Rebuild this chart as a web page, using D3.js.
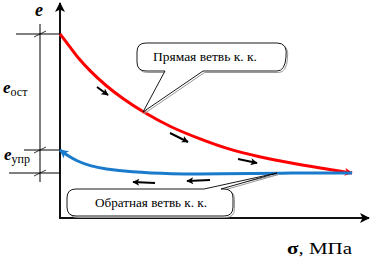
<!DOCTYPE html>
<html>
<head>
<meta charset="utf-8">
<script src="https://cdn.jsdelivr.net/npm/d3@7"></script>
<style>
  html, body { margin: 0; padding: 0; background: #fff; }
  svg { display: block; }
</style>
</head>
<body>
<svg id="chart" width="371" height="261"></svg>
<script>
// Loading branch of the compression curve: stress σ (МПа) vs void ratio e
const loadSigma = [0, 10, 18, 30, 45, 63, 83, 110, 140, 167, 200, 230, 260, 292];
const loadE     = [184, 171, 160, 147, 133, 119, 106, 91, 79, 69, 61, 55, 50, 45];

// Unloading branch
const unloadSigma = [0, 8, 17, 30, 45, 70, 110, 160, 220, 292];
const unloadE     = [68, 62, 57, 52, 49, 46, 44, 44, 45, 45];

// Texts
const axisYLabel = "e";
const axisXLabel = ["σ", ", МПа"];
const calloutLoad = "Прямая ветвь к. к.";
const calloutUnload = "Обратная ветвь к. к.";
const residualLabel = ["e", "ост"];
const elasticLabel = ["e", "упр"];

const FONT = "Liberation Serif";

const svg = d3.select("#chart");

const x = d3.scaleLinear().domain([0, 300]).range([60, 360]);
const y = d3.scaleLinear().domain([0, 200]).range([218, 18]);

const load = loadSigma.map((s, i) => ({ s, e: loadE[i] }));
const unload = unloadSigma.map((s, i) => ({ s, e: unloadE[i] }));

const defs = svg.append("defs");
function marker(id, color, w, h) {
  defs.append("marker")
    .attr("id", id)
    .attr("viewBox", "0 0 10 10")
    .attr("refX", 9).attr("refY", 5)
    .attr("markerWidth", w).attr("markerHeight", h)
    .attr("markerUnits", "userSpaceOnUse")
    .attr("orient", "auto")
    .append("path")
    .attr("d", "M0,0 L10,5 L0,10 L2.5,5 Z")
    .attr("fill", color);
}
marker("arrAxis", "#000", 10, 10);
marker("arrRed", "#ff0000", 9, 8);
marker("arrBlue", "#1a7acb", 10, 9);
marker("arrSmall", "#000", 8, 7);

// Axes with arrowheads
svg.append("line")
  .attr("x1", x(0)).attr("y1", y(0) + 1)
  .attr("x2", x(0)).attr("y2", 3)
  .attr("stroke", "#111").attr("stroke-width", 2)
  .attr("marker-end", "url(#arrAxis)");
svg.append("line")
  .attr("x1", x(0) - 1).attr("y1", y(0))
  .attr("x2", 369).attr("y2", y(0))
  .attr("stroke", "#111").attr("stroke-width", 2)
  .attr("marker-end", "url(#arrAxis)");

// Dimension lines on the left
const eTop = loadE[0], eEl = unloadE[0], eEnd = unloadE[unloadE.length - 1];
const dimX = 40;
const dim = svg.append("g").attr("stroke", "#000").attr("stroke-width", 1);
dim.append("line").attr("x1", dimX).attr("x2", dimX).attr("y1", y(eTop) - 10).attr("y2", y(eEnd) + 9);
dim.append("line").attr("x1", 16).attr("x2", x(0)).attr("y1", y(eTop)).attr("y2", y(eTop));
dim.append("line").attr("x1", 24).attr("x2", x(0)).attr("y1", y(eEl)).attr("y2", y(eEl));
dim.append("line").attr("x1", 9).attr("x2", x(0)).attr("y1", y(eEnd)).attr("y2", y(eEnd));
[eTop, eEl, eEnd].forEach(v => {
  dim.append("line")
    .attr("x1", dimX - 6).attr("y1", y(v) + 3)
    .attr("x2", dimX + 6).attr("y2", y(v) - 3)
    .attr("stroke-width", 0.8);
});

// Curves
const lineGen = d3.line().x(d => x(d.s)).y(d => y(d.e)).curve(d3.curveBasis);

svg.append("path")
  .attr("d", lineGen(load))
  .attr("fill", "none").attr("stroke", "#ff0000").attr("stroke-width", 3)
  .attr("marker-end", "url(#arrRed)");

svg.append("path")
  .attr("d", lineGen(unload.slice().reverse()))
  .attr("fill", "none").attr("stroke", "#1a7acb").attr("stroke-width", 3)
  .attr("marker-end", "url(#arrBlue)");

// Direction arrows along the branches
function dirArrow(s1, e1, s2, e2) {
  svg.append("line")
    .attr("x1", x(s1)).attr("y1", y(e1))
    .attr("x2", x(s2)).attr("y2", y(e2))
    .attr("stroke", "#000").attr("stroke-width", 2)
    .attr("marker-end", "url(#arrSmall)");
}
dirArrow(37, 131, 48, 123);
dirArrow(110, 85, 128, 76);
dirArrow(178, 59, 197, 55);
dirArrow(95, 35, 73, 36);
dirArrow(150, 38, 127, 37);

// Callout bubbles
function callout(bx, by, bw, bh, base1, base2, tip, text, textX, textW) {
  const r = 9;
  const top = by, bot = by + bh, left = bx, right = bx + bw;
  let p;
  if (tip[1] > bot) {
    p = `M${left + r},${top} L${right - r},${top} Q${right + 2},${top} ${right},${top + bh / 2} ` +
        `Q${right - 1},${bot} ${right - r},${bot} L${base2},${bot} L${tip[0]},${tip[1]} L${base1},${bot} ` +
        `L${left + r},${bot} Q${left},${bot} ${left},${bot - r} L${left},${top + r} Q${left},${top} ${left + r},${top} Z`;
  } else {
    p = `M${left + r},${top} L${base1},${top} L${tip[0]},${tip[1]} L${base2},${top} L${right - r},${top} ` +
        `Q${right},${top} ${right},${top + r} L${right},${bot - r} Q${right},${bot} ${right - r},${bot} ` +
        `L${left + r},${bot} Q${left},${bot} ${left},${bot - r} L${left},${top + r} Q${left},${top} ${left + r},${top} Z`;
  }
  svg.append("path").attr("d", p)
    .attr("transform", "translate(1.5,1.5)")
    .attr("fill", "none").attr("stroke", "#999").attr("stroke-width", 1);
  svg.append("path").attr("d", p)
    .attr("fill", "#fff").attr("stroke", "#000").attr("stroke-width", 0.9);
  svg.append("text")
    .attr("x", textX).attr("y", by + bh / 2 + 4)
    .attr("font-family", FONT)
    .attr("font-size", 12)
    .attr("textLength", textW).attr("lengthAdjust", "spacingAndGlyphs")
    .text(text);
}
callout(137, 43, 149, 28, 165, 203, [x(83), y(106)], calloutLoad, 153, 104);
callout(67, 189, 166, 27, 204, 221, [x(217), y(45)], calloutUnload, 95, 112);

// Axis labels
svg.append("text").attr("x", 35).attr("y", 16)
  .attr("font-family", FONT)
  .attr("font-size", 18).attr("font-weight", "bold").attr("font-style", "italic")
  .text(axisYLabel);

const xl = svg.append("text").attr("x", 287).attr("y", 254)
  .attr("font-family", FONT).attr("font-size", 16)
  .attr("textLength", 65).attr("lengthAdjust", "spacingAndGlyphs");
xl.append("tspan").attr("font-weight", "bold").text(axisXLabel[0]);
xl.append("tspan").text(axisXLabel[1]);

function subLabel(lx, ly, parts) {
  const t = svg.append("text").attr("x", lx).attr("y", ly).attr("font-family", FONT);
  t.append("tspan").attr("font-size", 17).attr("font-weight", "bold").attr("font-style", "italic").text(parts[0]);
  t.append("tspan").attr("font-size", 12).attr("dy", 3).text(parts[1]);
}
subLabel(3, 93, residualLabel);
subLabel(4, 160, elasticLabel);
</script>
</body>
</html>
